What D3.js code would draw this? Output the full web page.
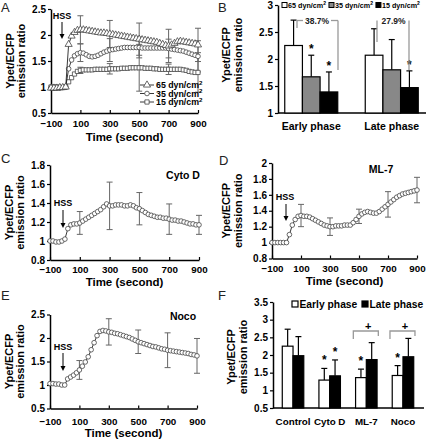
<!DOCTYPE html>
<html><head><meta charset="utf-8">
<script src="https://cdn.jsdelivr.net/npm/d3@7"></script>
<style>
html,body{margin:0;padding:0;background:#fff;}
svg{display:block;}
</style></head><body>
<svg id="chart" width="432" height="439"></svg>
<script>
// ---------------- DATA ----------------
const times = [-100,-80,-60,-40,-20,0,20,40,60,80,100,120,140,160,180,200,220,240,260,280,300,320,340,360,380,400,420,440,460,480,500,520,540,560,580,600,620,640,660,680,700,720,740,760,780,800,820,840,860,880,900];
const a65 = [0.98,0.98,0.98,0.99,0.99,1.0, 1.82,1.98,2.05,2.09,2.1, 2.1,2.09,2.08,2.07,2.06, 2.05,2.04,2.04,2.03,2.02, 2.01,2.0,1.99,1.98,1.97, 1.96,1.95,1.94,1.93,1.92, 1.91,1.9,1.89,1.88,1.87, 1.86,1.84,1.82,1.8,1.79, 1.81,1.84,1.87,1.88,1.87, 1.86,1.85,1.84,1.83,1.81];
const a35 = [0.98,0.98,0.98,0.98,0.99,1.0, 1.35,1.52,1.6,1.64,1.66, 1.65,1.62,1.59,1.58,1.59, 1.61,1.64,1.67,1.69,1.71, 1.72,1.73,1.74,1.75,1.76, 1.76,1.76,1.76,1.76,1.76, 1.75,1.75,1.75,1.75,1.75, 1.75,1.75,1.75,1.75,1.74, 1.73,1.72,1.71,1.7,1.69, 1.67,1.65,1.63,1.61,1.59];
const a15 = [1.0,1.0,1.0,0.99,0.99,1.0, 1.1,1.18,1.25,1.3,1.32, 1.33,1.33,1.33,1.33,1.34, 1.34,1.34,1.34,1.34,1.35, 1.35,1.35,1.35,1.36,1.36, 1.36,1.37,1.37,1.37,1.37, 1.37,1.36,1.36,1.36,1.35, 1.35,1.34,1.34,1.34,1.34, 1.34,1.34,1.34,1.34,1.33, 1.32,1.3,1.29,1.28,1.28];
const cytoD = [1.0,1.0,0.99,0.99,1.0,1.02, 1.13,1.17,1.18,1.18,1.19, 1.21,1.23,1.25,1.27,1.29, 1.31,1.33,1.36,1.39,1.37, 1.37,1.38,1.38,1.38,1.37, 1.37,1.38,1.37,1.35,1.34, 1.32,1.3,1.28,1.27,1.26, 1.25,1.25,1.24,1.24,1.23, 1.22,1.22,1.21,1.21,1.2, 1.19,1.18,1.18,1.17,1.17];
const ml7 = [1.0,1.0,1.0,1.0,1.0,1.0, 1.1,1.22,1.29,1.33,1.34, 1.33,1.33,1.32,1.3,1.28, 1.26,1.24,1.22,1.21,1.2, 1.2,1.21,1.21,1.21,1.22, 1.22,1.22,1.25,1.29,1.33, 1.36,1.38,1.39,1.38,1.37, 1.37,1.39,1.42,1.45,1.48, 1.51,1.54,1.57,1.59,1.61, 1.62,1.63,1.64,1.65,1.66];
const noco = [1.03,1.03,1.02,1.02,1.0,1.0, 1.13,1.17,1.21,1.26,1.32, 1.4,1.49,1.6,1.75,1.9, 2.05,2.14,2.16,2.15,2.13, 2.12,2.1,2.09,2.07,2.05, 2.03,2.01,1.98,1.95,1.92, 1.9,1.88,1.86,1.84,1.82, 1.81,1.79,1.77,1.76,1.74, 1.73,1.72,1.71,1.7,1.69, 1.68,1.67,1.65,1.64,1.62];

const errTimes = [100,300,500,700,900];
const a65Err = [0.27,0.26,0.31,0.32,0.32];
const a35Err = [0.17,0.22,0.2,0.18,0.3];
const a15Err = [0.06,0.1,0.45,0.1,0.38];
const cytoDErr = [0.12,0.25,0.17,0.16,0.1];
const ml7Err = [0.14,0.11,0.09,0.16,0.16];
const nocoErr = [0.2,0.28,0.25,0.37,0.37];

const timeTicks = [-100,100,300,500,700,900];
const aTicksY = [0.5,1,1.5,2,2.5];
const cTicksY = [0.8,1,1.2,1.4,1.6,1.8];
const dTicksY = [0.8,1,1.2,1.4,1.6,1.8,2];
const eTicksY = [0.5,1,1.5,2,2.5];
const shearLabels = ["65 dyn/cm2","35 dyn/cm2","15 dyn/cm2"];

const bCategories = ["Early phase","Late phase"];
const bEarly = [2.25,1.67,1.39];
const bEarlyErr = [0.47,0.40,0.37];
const bLate = [2.07,1.80,1.47];
const bLateErr = [0.49,0.56,0.31];
const bStarsEarly = [false,true,true];
const bStarsLate = [false,false,true];
const bTicksY = [1,1.5,2,2.5,3];
const bPercents = ["38.7%","27.9%"];

const fCategories = ["Control","Cyto D","ML-7","Noco"];
const fSeries = ["Early phase","Late phase"];
const fEarly = [2.25,1.29,1.36,1.42];
const fEarlyErr = [0.48,0.33,0.24,0.28];
const fLate = [1.98,1.41,1.87,1.95];
const fLateErr = [0.54,0.45,0.48,0.52];
const fStarsEarly = [false,true,true,true];
const fStarsLate = [false,true,false,false];
const fPlus = [false,false,true,true];
const fTicksY = [0.5,1,1.5,2,2.5,3,3.5];

// ---------------- DRAWING ----------------
const FONT = '"Liberation Sans", Arial, Helvetica, sans-serif';
const svg = d3.select("#chart");
svg.append("rect").attr("width",432).attr("height",439).attr("fill","#fff");

function txt(g, x, y, s, size, weight, anchor, fill) {
  return g.append("text").attr("x",x).attr("y",y).text(s)
    .attr("font-family",FONT).attr("font-size",size).attr("font-weight",weight||"bold")
    .attr("text-anchor",anchor||"start").attr("fill",fill||"#000");
}
function supText(g, x, y, label, size, anchor) {
  const t = g.append("text").attr("x",x).attr("y",y).attr("font-family",FONT)
    .attr("font-size",size).attr("font-weight","bold").attr("text-anchor",anchor||"start");
  t.append("tspan").text(label.slice(0,-1));
  t.append("tspan").attr("dy",-size*0.38).attr("font-size",size*0.7).text(label.slice(-1));
  return t;
}
function styleAxis(ax, fs) {
  ax.attr("font-family",FONT).attr("font-size",fs||10).attr("font-weight","bold");
  ax.select(".domain").attr("stroke","#000").attr("stroke-width",1.5);
  ax.selectAll(".tick line").attr("stroke","#000").attr("stroke-width",1.2);
  ax.selectAll(".tick text").attr("fill","#000");
}
function yAxis(g, y, x0, ticks) {
  const ax = g.append("g").attr("transform",`translate(${x0},0)`)
    .call(d3.axisLeft(y).tickValues(ticks).tickFormat(d=>String(d)).tickSize(3).tickSizeOuter(0).tickPadding(2));
  styleAxis(ax);
}
function yTitle(g, xa, xb, cy) {
  [["Ypet/ECFP",xa],["emission ratio",xb]].forEach(([s,x])=>{
    g.append("text").attr("transform",`translate(${x},${cy}) rotate(-90)`)
      .attr("text-anchor","middle").attr("dy","0.35em").attr("font-family",FONT)
      .attr("font-size",11).attr("font-weight","bold").text(s);
  });
}
function panelLabel(x, y, s) { txt(svg, x, y, s, 13, "normal", "start", "#222"); }
function arrow(g, x, y0, y1) {
  g.append("line").attr("x1",x).attr("x2",x).attr("y1",y0).attr("y2",y1-4).attr("stroke","#000").attr("stroke-width",1);
  g.append("path").attr("d",`M${x-2.5},${y1-5}L${x+2.5},${y1-5}L${x},${y1}Z`).attr("fill","#000");
}

const symbols = {circle:[d3.symbolCircle,17], triangle:[d3.symbolTriangle,22], square:[d3.symbolSquare,18]};

function timePanel(cfg) {
  const g = svg.append("g");
  const x = d3.scaleLinear().domain([-100,900]).range([cfg.x0,cfg.x1]);
  const y = d3.scaleLinear().domain(cfg.dom).range([cfg.yB,cfg.yT]);
  yAxis(g, y, cfg.x0, cfg.yTicks);
  const xa = g.append("g").attr("transform",`translate(0,${cfg.yB})`)
    .call(d3.axisBottom(x).tickValues(timeTicks).tickSize(-3).tickSizeOuter(0).tickPadding(cfg.pad));
  styleAxis(xa, 9.8);
  txt(g, (cfg.x0+cfg.x1)/2, cfg.titleY, "Time (second)", 11.5, "bold", "middle");
  yTitle(g, cfg.tx[0], cfg.tx[1], (cfg.yB+cfg.yT)/2);
  // error bars
  cfg.series.forEach(s=>{
    errTimes.forEach((t,i)=>{
      const v = s.vals[times.indexOf(t)], e = s.errs[i];
      const cx = x(t), ya = y(v+e), yb = y(v-e);
      g.append("line").attr("x1",cx).attr("x2",cx).attr("y1",ya).attr("y2",yb).attr("stroke","#666").attr("stroke-width",1);
      [ya,yb].forEach(yy=>g.append("line").attr("x1",cx-3).attr("x2",cx+3).attr("y1",yy).attr("y2",yy).attr("stroke","#666").attr("stroke-width",1));
    });
  });
  cfg.series.forEach(s=>{
    const pts = times.map((t,i)=>[x(t), y(s.vals[i])]);
    g.append("path").attr("d",d3.line()(pts)).attr("fill","none").attr("stroke","#222").attr("stroke-width",0.9);
    const [type,size] = symbols[s.sym];
    g.selectAll(null).data(pts).enter().append("path")
      .attr("transform",d=>`translate(${d[0]},${d[1]})`)
      .attr("d",d3.symbol().type(type).size(size)())
      .attr("fill","#fff").attr("stroke","#444").attr("stroke-width",0.8);
  });
  return {g,x,y};
}

// Panel A
const A = timePanel({x0:51,x1:198,yB:113,yT:9,dom:[0.5,2.5],yTicks:aTicksY,pad:7,titleY:140.5,tx:[10,21],
  series:[{vals:a15,errs:a15Err,sym:"square"},{vals:a35,errs:a35Err,sym:"circle"},{vals:a65,errs:a65Err,sym:"triangle"}]});
txt(A.g, 62, 18.5, "HSS", 9, "bold", "middle");
arrow(A.g, 62, 22, 39);
[["triangle",85],["circle",93.5],["square",102]].forEach(([sym,yy],i)=>{
  A.g.append("line").attr("x1",140).attr("x2",154).attr("y1",yy).attr("y2",yy).attr("stroke","#222").attr("stroke-width",0.9);
  A.g.append("path").attr("transform",`translate(147,${yy})`).attr("d",d3.symbol().type(symbols[sym][0]).size(symbols[sym][1])())
    .attr("fill","#fff").attr("stroke","#444").attr("stroke-width",0.8);
  supText(A.g, 156, yy+3.2, shearLabels[i], 8.8);
});
panelLabel(1, 12, "A");

// Panel C
const C = timePanel({x0:50,x1:199,yB:260,yT:165,dom:[0.8,1.8],yTicks:cTicksY,pad:6.5,titleY:285.5,tx:[9,20],
  series:[{vals:cytoD,errs:cytoDErr,sym:"circle"}]});
txt(C.g, 63, 206, "HSS", 9, "bold", "middle");
arrow(C.g, 63, 210, 228);
txt(C.g, 183, 179, "Cyto D", 10.5, "bold", "middle");
panelLabel(1, 163, "C");

// Panel D
const D = timePanel({x0:272,x1:417,yB:258.5,yT:163,dom:[0.8,2],yTicks:dTicksY,pad:7,titleY:284.5,tx:[226,238],
  series:[{vals:ml7,errs:ml7Err,sym:"circle"}]});
txt(D.g, 285, 199.5, "HSS", 9, "bold", "middle");
arrow(D.g, 286, 204, 221);
txt(D.g, 381, 173, "ML-7", 10.5, "bold", "middle");
panelLabel(219, 165, "D");

// Panel E
const E = timePanel({x0:50,x1:197,yB:408.5,yT:314.5,dom:[0.5,2.5],yTicks:eTicksY,pad:9.5,titleY:437,tx:[9,20],
  series:[{vals:noco,errs:nocoErr,sym:"circle"}]});
txt(E.g, 63, 349.5, "HSS", 9, "bold", "middle");
arrow(E.g, 63, 353, 371);
txt(E.g, 183, 320, "Noco", 10.5, "bold", "middle");
panelLabel(1, 300, "E");

// Panel B
(function(){
  const g = svg.append("g");
  const y = d3.scaleLinear().domain([1,3]).range([113,5]);
  const x = d3.scaleBand().domain(bCategories).range([271,432]);
  const sub = d3.scaleBand().domain(shearLabels).range([0,53]);
  const off = (x.bandwidth()-53)/2;
  const fills = ["#fff","#888","#000"];
  yAxis(g, y, 278, bTicksY);
  g.append("line").attr("x1",278).attr("x2",426).attr("y1",113).attr("y2",113).attr("stroke","#000").attr("stroke-width",1.5);
  const groups = [[bEarly,bEarlyErr,bStarsEarly],[bLate,bLateErr,bStarsLate]];
  groups.forEach(([vals,errs,stars],ci)=>{
    const cat = bCategories[ci];
    vals.forEach((v,i)=>{
      const bx = x(cat)+off+sub(shearLabels[i]), w = sub.bandwidth(), cx = bx+w/2;
      const top = y(v+errs[i]);
      g.append("line").attr("x1",cx).attr("x2",cx).attr("y1",top).attr("y2",y(v)).attr("stroke","#000").attr("stroke-width",1.2);
      g.append("line").attr("x1",cx-3).attr("x2",cx+3).attr("y1",top).attr("y2",top).attr("stroke","#000").attr("stroke-width",1.2);
      g.append("rect").attr("x",bx).attr("y",y(v)).attr("width",w).attr("height",y(1)-y(v))
        .attr("fill",fills[i]).attr("stroke","#000").attr("stroke-width",1.2);
      if (stars[i]) txt(g, cx, top-8+6, "*", 12, "bold", "middle");
    });
    txt(g, x(cat)+x.bandwidth()/2, 130, cat, 10.5, "bold", "middle");
  });
  // brackets
  const gray = "#999";
  const seg = (x1,y1,x2,y2)=>g.append("line").attr("x1",x1).attr("y1",y1).attr("x2",x2).attr("y2",y2).attr("stroke",gray).attr("stroke-width",1.3);
  seg(297,20.5,297,28); seg(297,20.5,303,20.5); seg(331,20.5,338,20.5); seg(338,20.5,338,70);
  txt(g, 317, 23.5, bPercents[0], 8.5, "bold", "middle", "#222");
  seg(377,20.5,377,42); seg(409,20.5,409,70);
  txt(g, 393.5, 23.5, bPercents[1], 8.5, "bold", "middle", "#222");
  yTitle(g, 226, 238, 55);
  // legend
  let lx = 282;
  shearLabels.forEach((s,i)=>{
    g.append("rect").attr("x",lx).attr("y",2.5).attr("width",5).attr("height",5).attr("fill",fills[i]).attr("stroke","#000").attr("stroke-width",1);
    const t = supText(g, lx+6, 8, s, 7.2);
    lx += 6 + t.node().getComputedTextLength() + 3;
  });
  panelLabel(218, 12, "B");
})();

// Panel F
(function(){
  const g = svg.append("g");
  const y = d3.scaleLinear().domain([0.5,3.5]).range([408,302]);
  const x = d3.scaleBand().domain(fCategories).range([274.7,421.3]);
  const sub = d3.scaleBand().domain(fSeries).range([0,21.5]);
  const off = (x.bandwidth()-21.5)/2;
  const fills = ["#fff","#000"];
  yAxis(g, y, 273, fTicksY);
  g.append("line").attr("x1",273).attr("x2",424).attr("y1",408).attr("y2",408).attr("stroke","#000").attr("stroke-width",1.5);
  fCategories.forEach((cat,ci)=>{
    [[fEarly,fEarlyErr,fStarsEarly],[fLate,fLateErr,fStarsLate]].forEach(([vals,errs,stars],si)=>{
      const v = vals[ci];
      const bx = x(cat)+off+sub(fSeries[si]), w = sub.bandwidth(), cx = bx+w/2;
      const top = y(v+errs[ci]);
      g.append("line").attr("x1",cx).attr("x2",cx).attr("y1",top).attr("y2",y(v)).attr("stroke","#000").attr("stroke-width",1.2);
      g.append("line").attr("x1",cx-3).attr("x2",cx+3).attr("y1",top).attr("y2",top).attr("stroke","#000").attr("stroke-width",1.2);
      g.append("rect").attr("x",bx).attr("y",y(v)).attr("width",w).attr("height",y(0.5)-y(v))
        .attr("fill",fills[si]).attr("stroke","#000").attr("stroke-width",1.2);
      if (stars[ci]) txt(g, cx, top-10+6, "*", 12, "bold", "middle");
    });
    const c = x(cat)+x.bandwidth()/2;
    if (fPlus[ci]) {
      const l = c-13, r = c+12;
      g.append("path").attr("d",`M${l},339V331H${r}V336`).attr("fill","none").attr("stroke","#999").attr("stroke-width",1.3);
      txt(g, c+2, 330, "+", 11, "bold", "middle");
    }
    txt(g, c, 425, cat, 9.8, "bold", "middle");
  });
  yTitle(g, 231, 243, 357);
  // legend
  g.append("rect").attr("x",292).attr("y",301).attr("width",6).attr("height",6).attr("fill","#fff").attr("stroke","#000").attr("stroke-width",1.2);
  txt(g, 299.5, 308, fSeries[0], 10.3, "bold");
  g.append("rect").attr("x",362).attr("y",301).attr("width",6).attr("height",6).attr("fill","#000").attr("stroke","#000").attr("stroke-width",1.2);
  txt(g, 369.5, 308, fSeries[1], 10.3, "bold");
  panelLabel(218, 300, "F");
})();
</script>
</body></html>
